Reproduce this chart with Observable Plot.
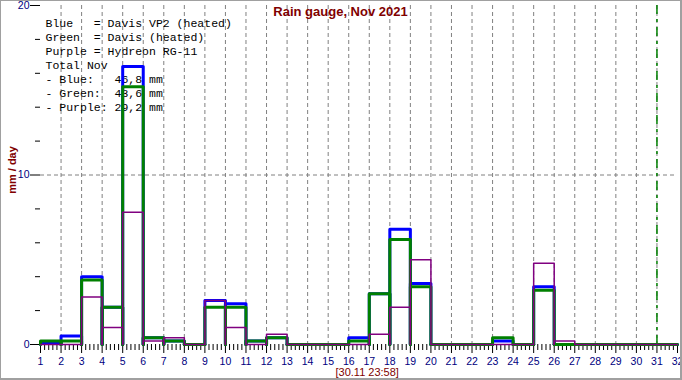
<!DOCTYPE html>
<html><head><meta charset="utf-8">
<script src="https://cdn.jsdelivr.net/npm/d3@7"></script>
<script src="https://cdn.jsdelivr.net/npm/@observablehq/plot@0.6"></script>
<style>
html,body{margin:0;padding:0;background:#fff;}
#wrap{position:relative;width:682px;height:380px;overflow:hidden;}
#frame{position:absolute;left:0;top:0;width:682px;height:380px;box-sizing:border-box;border-top:1px solid #a0a0a0;border-left:1px solid #a0a0a0;border-right:2px solid #a0a0a0;border-bottom:2px solid #a0a0a0;pointer-events:none;}
svg text{white-space:pre;}
</style></head><body>
<div id="wrap"><div id="frame"></div></div>
<script>
// ---- data ----
const days   = [1,2,3,4,5,6,7,8,9,10,11,12,13,14,15,16,17,18,19,20,21,22,23,24,25,26,27,28,29,30,31];
const blue   = [0.1,0.5,4.0,2.2,16.4,0.4,0.2,0,2.6,2.4,0.2,0.4,0,0,0,0.4,3.0,6.8,3.6,0,0,0,0.2,0,3.4,0,0,0,0,0,0];
const green  = [0.2,0.2,3.8,2.2,15.2,0.4,0.2,0,2.2,2.2,0.2,0.4,0,0,0,0.2,3.0,6.2,3.4,0,0,0,0.4,0,3.2,0,0,0,0,0,0];
const purple = [0,0,2.8,1.0,7.8,0.2,0.4,0,2.6,1.0,0,0.6,0,0,0,0,0.6,2.2,5.0,0,0,0,0,0,4.8,0.2,0,0,0,0,0];
const xTicks = [1,2,3,4,5,6,7,8,9,10,11,12,13,14,15,16,17,18,19,20,21,22,23,24,25,26,27,28,29,30,31,32];
const gridDays = [2,3,4,5,6,7,8,9,10,11,12,13,14,15,16,17,18,19,20,21,22,23,24,25,26,27,28,29,30,31];
const yTicks = [0,10,20];
const yMinor = [2,4,6,8,12,14,16,18];
const yGrid = [10];
const nowDay = [31];
const title = "Rain gauge, Nov 2021";
const yLabel = "mm / day";
const stamp = "[30.11 23:58]";
const legendLines = [
  "Blue   = Davis VP2 (heated)",
  "Green  = Davis (heated)",
  "Purple = Hydreon RG-11",
  "Total Nov",
  "- Blue:   46,8 mm",
  "- Green:  43,6 mm",
  "- Purple: 29,2 mm"
];

// ---- derived tables ----
function outline(name, vals) {
  const out = [];
  days.forEach((d, i) => {
    const v = vals[i], k = name + d;
    out.push({x: d, y: 0, k}, {x: d, y: v, k}, {x: d + 1, y: v, k}, {x: d + 1, y: 0, k});
  });
  return out;
}
const xMinor = [];
xTicks.slice(0, -1).forEach(d => { for (let j = 1; j < 5; j++) xMinor.push(d + j / 5); });

const navy = "#000080", dred = "#800000";

const chart = Plot.plot({
  width: 682, height: 380,
  marginLeft: 40, marginRight: 5, marginTop: 5, marginBottom: 36,
  x: {domain: [1, 32]},
  y: {domain: [0, 20]},
  style: {fontFamily: "'Liberation Sans', Arial, sans-serif", fontSize: "11px", background: "white", overflow: "visible"},
  marks: [
    Plot.ruleX(gridDays, {stroke: "#808080", strokeDasharray: "4,3", strokeWidth: 1}),
    Plot.ruleY(yGrid, {stroke: "#808080", strokeDasharray: "4,3", strokeWidth: 1}),
    Plot.ruleX(nowDay, {stroke: "#008000", strokeDasharray: "9,5,3,5", strokeWidth: 1.5}),
    Plot.axisX(xTicks, {text: null, tickSize: 9, stroke: "black", label: null}),
    Plot.axisX(xMinor, {text: null, tickSize: 6, stroke: "black", label: null}),
    Plot.axisX(xTicks, {tickSize: 0, tickPadding: 13, fill: navy, fontSize: 10.5, label: null}),
    Plot.axisY(yTicks, {text: null, tickSize: 10, stroke: "black", label: null}),
    Plot.axisY(yMinor, {text: null, tickSize: 5, stroke: "black", label: null}),
    Plot.axisY(yTicks, {tickSize: 0, tickPadding: 11, fill: navy, fontSize: 10.5, label: null}),
    Plot.text([legendLines.join("\n")], {frameAnchor: "top-left", dx: 5, dy: 12, lineAnchor: "top", textAnchor: "start",
      lineHeight: 14 / 11.5, fontFamily: "'Liberation Mono', 'Courier New', monospace", fontSize: 11.5, fill: "black"}),
    Plot.line(outline("b", blue), {x: "x", y: "y", z: "k", stroke: "#0000ff", strokeWidth: 3, curve: "linear"}),
    Plot.line(outline("g", green), {x: "x", y: "y", z: "k", stroke: "#008000", strokeWidth: 3, curve: "linear"}),
    Plot.line(outline("p", purple), {x: "x", y: "y", z: "k", stroke: "#800080", strokeWidth: 1.5, curve: "linear"}),
    Plot.text([title], {frameAnchor: "top", dx: -18.5, dy: 6.5, lineAnchor: "middle", fontWeight: "bold", fontSize: 13, fill: dred}),
    Plot.text([yLabel], {frameAnchor: "left", dx: -28, dy: -5, rotate: -90, textAnchor: "middle", lineAnchor: "middle", fontWeight: "bold", fontSize: 11, fill: dred}),
    Plot.text([stamp], {frameAnchor: "bottom", dx: -23.5, dy: 27.5, lineAnchor: "middle", textAnchor: "start", fontSize: 11, fill: dred})
  ]
});
document.getElementById("wrap").insertBefore(chart, document.getElementById("frame"));
</script>
</body></html>
